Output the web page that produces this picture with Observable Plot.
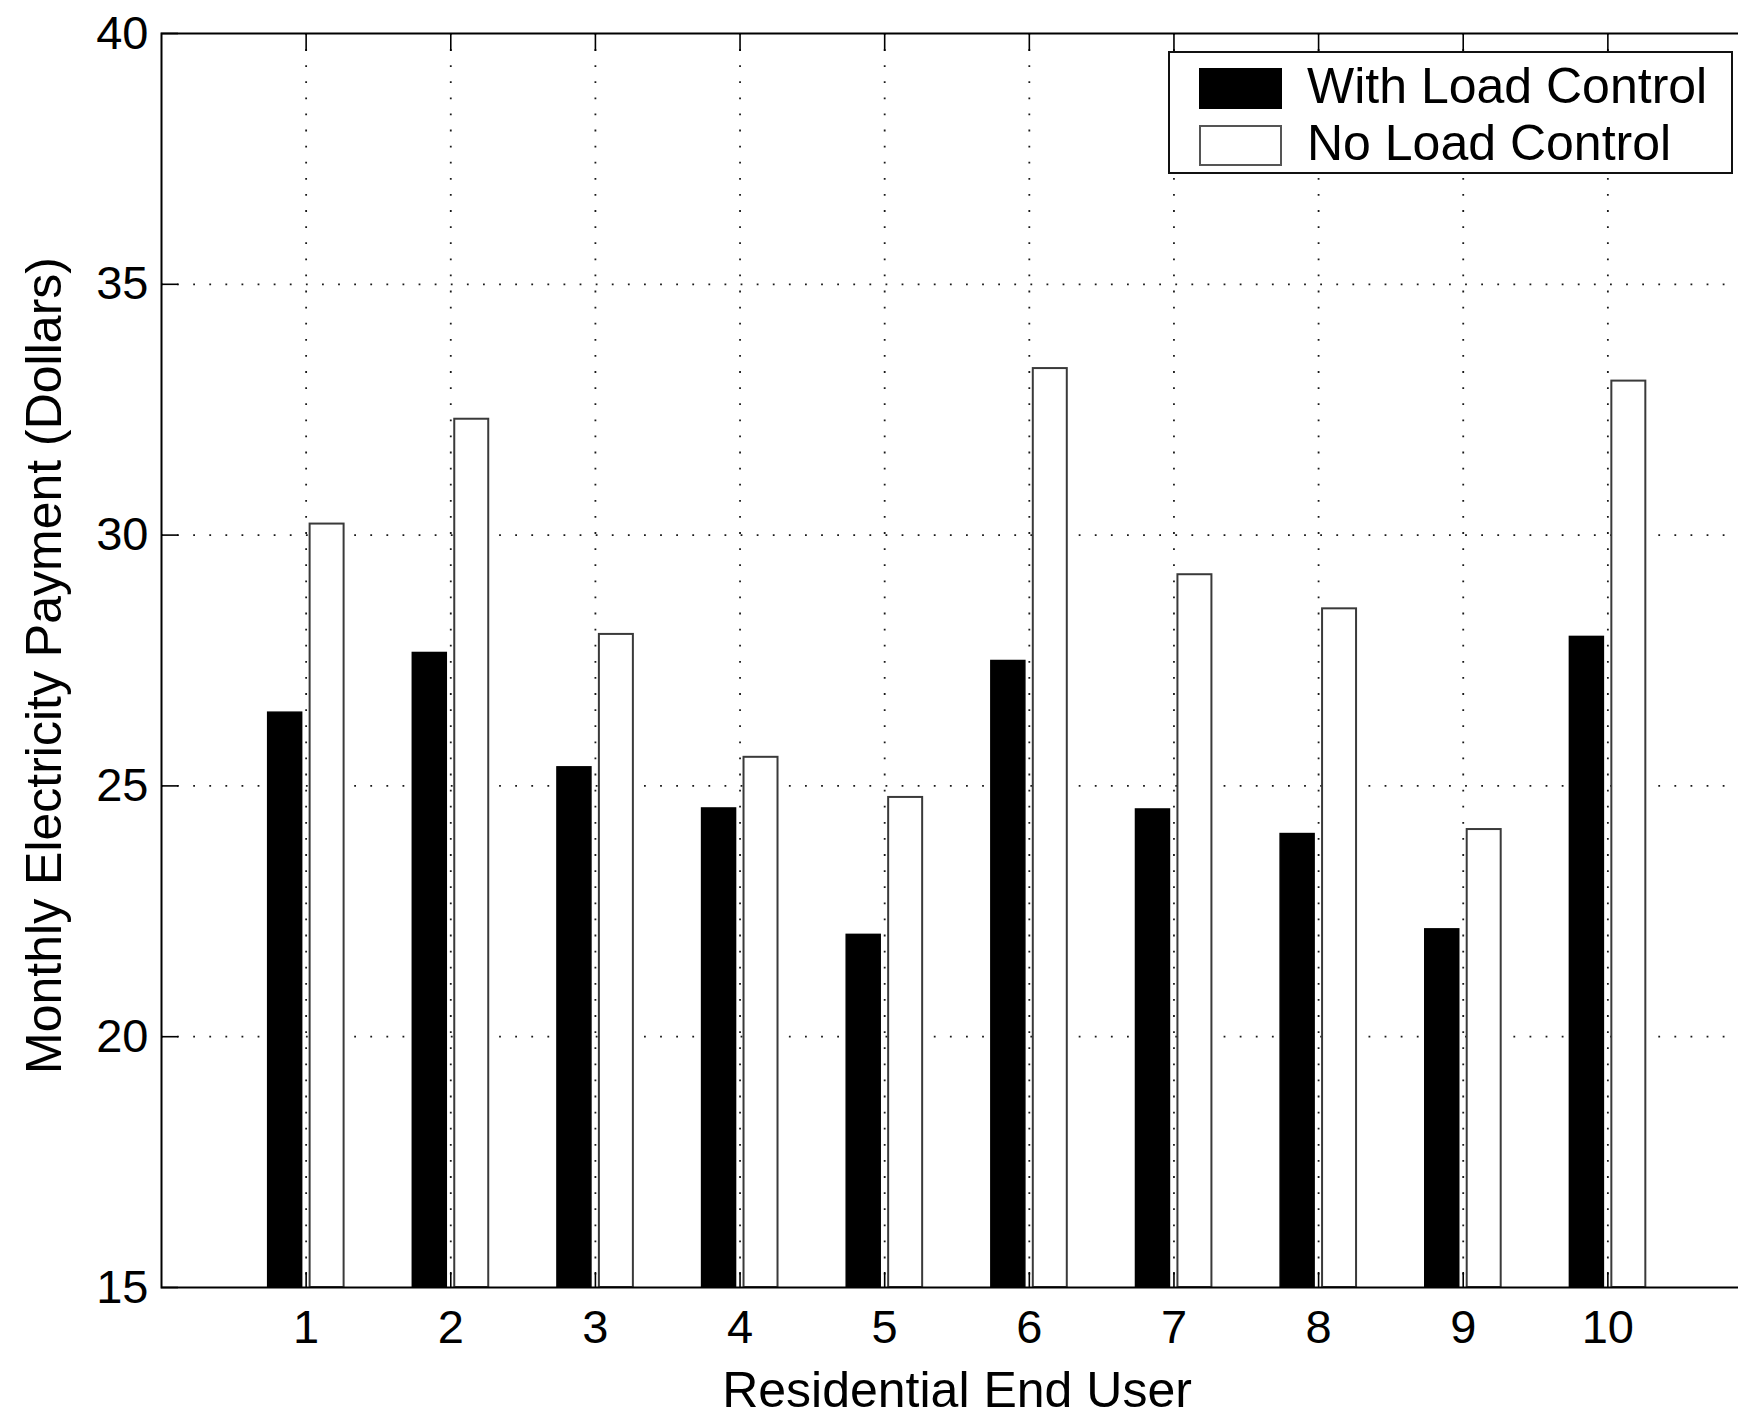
<!DOCTYPE html>
<html>
<head>
<meta charset="utf-8">
<script src="https://cdn.jsdelivr.net/npm/d3@7"></script>
<script src="https://cdn.jsdelivr.net/npm/@observablehq/plot@0.6"></script>
<style>
  html, body { margin: 0; padding: 0; background: #fff; overflow: hidden; }
  #wrap { position: relative; width: 1780px; height: 1417px; }
  #legend {
    position: absolute; left: 1168px; top: 51px; width: 561px; height: 119px;
    border: 2px solid #111; background: #fff;
    font-family: "Liberation Sans", Arial, Helvetica, sans-serif; font-size: 50px; color: #000;
  }
  .item { position: absolute; left: 0; height: 50px; width: 100%; }
  .sw { position: absolute; left: 29px; top: 4px; width: 79px; height: 37px; }
  .lbl { position: absolute; left: 137px; top: -7px; line-height: 58px; white-space: nowrap; }
</style>
</head>
<body>
<div id="wrap"><div id="legend"></div></div>
<script>
// ---- data ----
const users = [1, 2, 3, 4, 5, 6, 7, 8, 9, 10];
const withLoadControl = [26.46, 27.65, 25.37, 24.55, 22.03, 27.49, 24.53, 24.04, 22.14, 27.97];
const noLoadControl   = [30.22, 32.31, 28.02, 25.57, 24.77, 33.32, 29.21, 28.53, 24.13, 33.07];
const seriesNames = ["With Load Control", "No Load Control"];
const yTicks = [15, 20, 25, 30, 35, 40];
const xLabel = "Residential End User";
const yLabel = "Monthly Electricity Payment (Dollars)";

const rows = [];
users.forEach((u, i) => {
  rows.push({user: u, series: seriesNames[0], value: withLoadControl[i]});
  rows.push({user: u, series: seriesNames[1], value: noLoadControl[i]});
});

const barW = 0.235, off = 0.145;
const pos = s => (s === seriesNames[0] ? -off : off);
const FONT = "Liberation Sans, Arial, Helvetica, sans-serif";

const chart = Plot.plot({
  width: 1780,
  height: 1417,
  marginLeft: 161,
  marginRight: 28,
  marginTop: 33,
  marginBottom: 130,
  style: {fontFamily: FONT, fontSize: "47px", color: "#000", background: "#fff"},
  x: {domain: [0, 11], axis: null},
  y: {domain: [15, 40], axis: null},
  marks: [
    Plot.gridX(users, {stroke: "#000", strokeOpacity: 0.9, strokeWidth: 1.8, strokeDasharray: "1.8,14.3"}),
    Plot.gridY(yTicks.slice(1, -1), {stroke: "#000", strokeOpacity: 0.9, strokeWidth: 1.8, strokeDasharray: "1.8,14.3"}),
    Plot.rect(rows.filter(d => d.series === seriesNames[0]), {
      x1: d => d.user + pos(d.series) - barW / 2,
      x2: d => d.user + pos(d.series) + barW / 2,
      y1: 15, y2: "value",
      fill: "#000", stroke: "#000", strokeWidth: 1.5
    }),
    Plot.rect(rows.filter(d => d.series === seriesNames[1]), {
      x1: d => d.user + pos(d.series) - barW / 2,
      x2: d => d.user + pos(d.series) + barW / 2,
      y1: 15, y2: "value",
      fill: "#fff", stroke: "#3a3a3a", strokeWidth: 2
    }),
    // inward ticks
    Plot.axisY({ticks: yTicks, tickSize: 17, dx: 17, text: null, label: null, stroke: "#000", strokeWidth: 1.6}),
    Plot.axisX({ticks: users, anchor: "bottom", tickSize: 15, dy: -15, text: null, label: null, stroke: "#000", strokeWidth: 1.6}),
    Plot.axisX({ticks: users, anchor: "top", tickSize: 17, dy: 17, text: null, label: null, stroke: "#000", strokeWidth: 1.6}),
    // tick labels
    Plot.axisY({ticks: yTicks, tickSize: 0, tickPadding: 13, label: null, fontSize: 47}),
    Plot.axisX({ticks: users, anchor: "bottom", tickSize: 0, tickPadding: 22, label: null, fontSize: 47}),
    Plot.frame({stroke: "#000", strokeWidth: 2}),
    Plot.text([xLabel], {frameAnchor: "bottom", text: d => d, dy: 119, fontSize: 50, fill: "#000", textAnchor: "middle"}),
    Plot.text([yLabel], {frameAnchor: "left", text: d => d, dx: -117, dy: 5, rotate: -90, fontSize: 50, fill: "#000", textAnchor: "middle"})
  ]
});
document.getElementById("wrap").prepend(chart);

// legend built from series names
const legend = document.getElementById("legend");
const swatchStyles = [
  {background: "#000", border: "2px solid #000"},
  {background: "#fff", border: "2px solid #555"}
];
seriesNames.forEach((name, i) => {
  const item = document.createElement("div");
  item.className = "item";
  item.style.top = (11 + i * 57) + "px";
  const sw = document.createElement("div");
  sw.className = "sw";
  Object.assign(sw.style, swatchStyles[i]);
  const lbl = document.createElement("div");
  lbl.className = "lbl";
  lbl.textContent = name;
  item.append(sw, lbl);
  legend.append(item);
});
</script>
</body>
</html>
